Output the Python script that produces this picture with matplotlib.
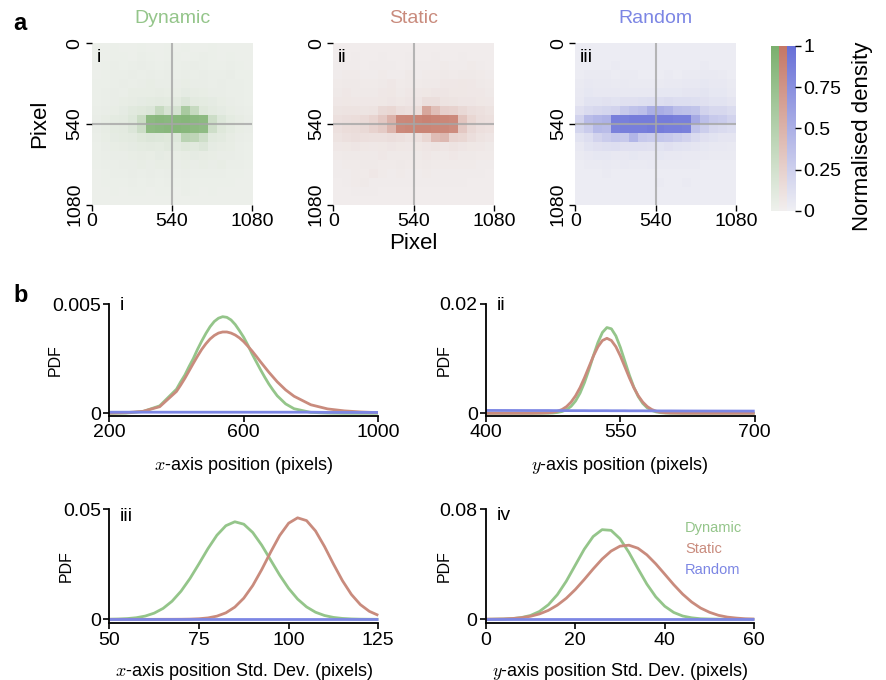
import numpy as np
import matplotlib.pyplot as plt
from matplotlib.colors import LinearSegmentedColormap

plt.rcParams['font.family'] = ['Liberation Sans', 'DejaVu Sans']
plt.rcParams['mathtext.fontset'] = 'cm'

# ---- panel a: binned gaze density (percent of max), 18 x 18 bins of 60 px ----
dynamic_density = [
    [2, 2, 3, 2, 2, 3, 2, 2, 3, 2, 3, 2, 2, 3, 2, 2, 2, 2],
    [2, 2, 3, 3, 2, 4, 3, 2, 3, 3, 2, 3, 4, 3, 2, 3, 2, 2],
    [2, 3, 4, 3, 4, 5, 4, 3, 4, 3, 4, 5, 4, 3, 3, 4, 3, 2],
    [2, 3, 4, 4, 5, 4, 5, 4, 5, 4, 5, 4, 5, 4, 4, 5, 3, 3],
    [3, 3, 4, 5, 4, 5, 6, 5, 5, 5, 6, 5, 5, 4, 5, 4, 4, 3],
    [3, 4, 5, 4, 6, 6, 6, 7, 6, 6, 8, 7, 6, 5, 5, 4, 4, 3],
    [3, 4, 5, 6, 7, 8, 9, 10, 9, 10, 16, 10, 9, 8, 6, 5, 4, 3],
    [4, 5, 6, 8, 12, 14, 16, 35, 20, 22, 60, 35, 14, 10, 8, 6, 5, 4],
    [5, 7, 9, 10, 15, 32, 85, 88, 86, 88, 90, 86, 84, 30, 15, 9, 7, 5],
    [5, 7, 9, 10, 16, 30, 84, 86, 88, 90, 88, 85, 82, 28, 14, 9, 6, 5],
    [4, 6, 8, 9, 10, 14, 16, 15, 14, 15, 45, 42, 28, 12, 10, 7, 5, 4],
    [3, 5, 6, 7, 8, 9, 10, 9, 12, 10, 14, 12, 16, 8, 7, 6, 4, 3],
    [3, 4, 5, 5, 6, 7, 6, 8, 7, 6, 7, 8, 7, 6, 5, 5, 4, 3],
    [3, 4, 4, 5, 5, 6, 5, 6, 6, 5, 6, 5, 6, 5, 6, 4, 4, 3],
    [2, 3, 4, 4, 5, 4, 5, 4, 5, 4, 5, 4, 4, 4, 4, 3, 3, 2],
    [2, 3, 3, 3, 4, 3, 4, 3, 4, 3, 4, 3, 3, 3, 3, 3, 2, 2],
    [2, 2, 3, 2, 3, 3, 2, 3, 3, 2, 4, 3, 2, 3, 2, 2, 2, 2],
    [2, 2, 2, 2, 2, 2, 2, 2, 2, 2, 2, 2, 2, 2, 2, 2, 2, 2],
]

static_density = [
    [2, 2, 2, 2, 2, 2, 2, 2, 2, 2, 2, 2, 2, 2, 2, 2, 2, 2],
    [2, 2, 3, 2, 2, 3, 2, 2, 3, 2, 2, 3, 2, 2, 3, 2, 2, 2],
    [3, 3, 3, 2, 3, 3, 3, 2, 3, 3, 3, 3, 4, 3, 3, 4, 3, 2],
    [3, 4, 4, 3, 3, 4, 3, 3, 5, 3, 4, 4, 5, 4, 5, 5, 4, 3],
    [4, 5, 5, 4, 4, 5, 6, 4, 5, 4, 5, 5, 6, 6, 7, 6, 5, 4],
    [5, 6, 5, 5, 5, 6, 7, 5, 6, 6, 7, 8, 8, 7, 7, 6, 6, 5],
    [6, 7, 6, 6, 6, 7, 8, 7, 8, 8, 14, 14, 10, 9, 8, 8, 7, 6],
    [9, 10, 10, 9, 10, 18, 20, 14, 12, 15, 60, 40, 25, 24, 18, 14, 12, 10],
    [12, 14, 15, 17, 22, 32, 50, 85, 86, 88, 90, 88, 86, 84, 35, 20, 14, 12],
    [12, 15, 16, 18, 24, 30, 48, 84, 86, 88, 88, 86, 85, 82, 32, 18, 13, 11],
    [10, 12, 14, 13, 12, 12, 14, 12, 10, 12, 20, 42, 45, 22, 20, 14, 10, 8],
    [6, 7, 8, 7, 6, 7, 8, 7, 6, 7, 8, 9, 8, 10, 8, 7, 6, 5],
    [4, 5, 5, 5, 5, 6, 5, 5, 5, 5, 6, 5, 5, 6, 5, 5, 4, 4],
    [3, 4, 4, 5, 5, 4, 4, 5, 4, 4, 5, 4, 4, 4, 4, 4, 3, 3],
    [3, 3, 4, 4, 6, 4, 3, 4, 3, 3, 4, 3, 3, 3, 3, 3, 3, 2],
    [2, 3, 4, 5, 3, 3, 3, 3, 3, 3, 3, 3, 3, 3, 3, 2, 2, 2],
    [2, 2, 3, 3, 3, 2, 2, 2, 2, 2, 2, 2, 2, 2, 2, 2, 2, 2],
    [2, 2, 2, 2, 2, 2, 2, 2, 2, 2, 2, 2, 2, 2, 2, 2, 2, 2],
]

random_density = [
    [3, 3, 3, 3, 3, 3, 3, 3, 3, 3, 3, 3, 3, 3, 3, 3, 3, 3],
    [3, 3, 3, 3, 3, 3, 3, 3, 3, 3, 3, 3, 3, 3, 3, 3, 3, 3],
    [3, 3, 3, 3, 4, 3, 3, 3, 3, 3, 3, 3, 3, 3, 4, 3, 3, 3],
    [3, 4, 4, 4, 3, 4, 4, 3, 3, 3, 4, 3, 4, 4, 5, 5, 4, 3],
    [4, 6, 5, 5, 4, 5, 4, 4, 4, 4, 5, 5, 6, 6, 7, 6, 6, 4],
    [5, 7, 6, 6, 6, 6, 6, 6, 6, 7, 7, 7, 8, 8, 9, 7, 7, 5],
    [6, 10, 10, 11, 10, 12, 12, 13, 14, 14, 15, 14, 14, 13, 12, 10, 10, 8],
    [12, 16, 18, 20, 22, 30, 35, 38, 50, 52, 48, 38, 36, 34, 22, 18, 18, 15],
    [22, 40, 45, 48, 88, 88, 90, 90, 90, 90, 90, 88, 88, 55, 38, 30, 28, 22],
    [20, 28, 42, 40, 86, 88, 88, 88, 90, 90, 88, 88, 86, 35, 26, 18, 16, 14],
    [10, 14, 22, 28, 32, 30, 45, 30, 28, 32, 30, 26, 22, 16, 12, 10, 8, 8],
    [6, 10, 12, 13, 14, 12, 12, 12, 11, 10, 12, 10, 9, 8, 7, 6, 6, 5],
    [4, 6, 7, 7, 6, 6, 7, 6, 6, 7, 6, 6, 5, 5, 5, 4, 4, 4],
    [3, 4, 4, 5, 4, 5, 4, 4, 5, 4, 4, 4, 4, 4, 3, 3, 3, 3],
    [3, 3, 3, 4, 3, 3, 3, 3, 3, 3, 3, 3, 3, 3, 3, 3, 3, 3],
    [3, 3, 3, 3, 3, 3, 3, 3, 3, 4, 3, 3, 4, 3, 3, 3, 3, 3],
    [3, 3, 3, 3, 3, 3, 3, 3, 3, 3, 3, 3, 3, 3, 3, 3, 3, 3],
    [3, 3, 3, 3, 3, 3, 3, 3, 3, 3, 3, 3, 3, 3, 3, 3, 3, 3],
]

# ---- panel b i: x-axis position ----
x_pos = [200, 250, 300, 350, 400, 412.5, 425, 437.5, 450, 462.5, 475, 487.5, 500,
         512.5, 525, 537.5, 550, 562.5, 575, 587.5, 600, 612.5, 625, 637.5, 650,
         662.5, 675, 687.5, 700, 725, 750, 800, 850, 900, 950, 1000]
dyn_x_pos = [0.00000, 0.00001, 0.00008, 0.00034, 0.00110, 0.00144, 0.00175, 0.00214,
             0.00250, 0.00292, 0.00330, 0.00365, 0.00396, 0.00420, 0.00435, 0.00442,
             0.00439, 0.00427, 0.00406, 0.00378, 0.00348, 0.00312, 0.00272, 0.00236,
             0.00200, 0.00166, 0.00134, 0.00106, 0.00080, 0.00043, 0.00021, 0.00004,
             0.00001, 0.00000, 0.00000, 0.00000]
sta_x_pos = [0.00001, 0.00003, 0.00009, 0.00030, 0.00100, 0.00129, 0.00160, 0.00194,
             0.00228, 0.00261, 0.00292, 0.00318, 0.00340, 0.00356, 0.00367, 0.00372,
             0.00372, 0.00367, 0.00358, 0.00345, 0.00328, 0.00307, 0.00285, 0.00261,
             0.00236, 0.00212, 0.00188, 0.00166, 0.00144, 0.00107, 0.00078, 0.00039,
             0.00020, 0.00011, 0.00006, 0.00003]
rnd_x_pos = [0.00005] * 32 + [0.00004] * 4

# ---- panel b ii: y-axis position ----
y_pos = [400, 450, 460, 470, 475, 480, 485, 490, 495, 500, 505, 510, 515, 520, 525,
         530, 535, 540, 545, 550, 555, 560, 565, 570, 575, 580, 585, 590, 595, 600,
         605, 620, 650, 700]
dyn_y_pos = [0.0, 0.0, 0.00001, 0.00002, 0.00006, 0.00015, 0.00033, 0.00067, 0.00127,
             0.00225, 0.00369, 0.00564, 0.00801, 0.01057, 0.01297, 0.01480, 0.01569,
             0.01546, 0.01416, 0.01206, 0.00955, 0.00702, 0.00480, 0.00305, 0.00181,
             0.00099, 0.00051, 0.00024, 0.00011, 0.00004, 0.00002, 0.0, 0.0, 0.0]
sta_y_pos = [0.0, 0.00001, 0.00003, 0.00009, 0.00019, 0.00038, 0.00070, 0.00123, 0.00205,
             0.00320, 0.00470, 0.00652, 0.00852, 0.01050, 0.01218, 0.01332, 0.01372,
             0.01332, 0.01218, 0.01050, 0.00852, 0.00652, 0.00470, 0.00320, 0.00205,
             0.00123, 0.00070, 0.00038, 0.00019, 0.00010, 0.00005, 0.00001, 0.0, 0.0]
rnd_y_pos = [0.00052, 0.00050, 0.00050, 0.00050, 0.00049, 0.00049, 0.00049, 0.00049,
             0.00048, 0.00048, 0.00048, 0.00048, 0.00047, 0.00047, 0.00047, 0.00047,
             0.00047, 0.00046, 0.00046, 0.00046, 0.00046, 0.00045, 0.00045, 0.00045,
             0.00045, 0.00044, 0.00044, 0.00044, 0.00043, 0.00043, 0.00043, 0.00042,
             0.00041, 0.00040]

# ---- panel b iii: x-axis position std. dev. ----
x_sd = [50, 52.5, 55, 57.5, 60, 62.5, 65, 67.5, 70, 72.5, 75, 77.5, 80, 82.5, 85, 87.5,
        90, 92.5, 95, 97.5, 100, 102.5, 105, 107.5, 110, 112.5, 115, 117.5, 120, 122.5, 125]
dyn_x_sd = [0.00006, 0.00015, 0.00034, 0.00073, 0.00148, 0.00281, 0.00497, 0.00824,
            0.01279, 0.01857, 0.02523, 0.03211, 0.03822, 0.04255, 0.04434, 0.04323,
            0.03945, 0.03369, 0.02690, 0.02011, 0.01407, 0.00921, 0.00565, 0.00323,
            0.00174, 0.00087, 0.00041, 0.00018, 0.00007, 0.00003, 0.00001]
sta_x_sd = [0.0, 0.0, 0.0, 0.0, 0.0, 0.0, 0.00001, 0.00002, 0.00004, 0.00010,
            0.00027, 0.00065, 0.00145, 0.00295, 0.00557, 0.00963, 0.01537, 0.02261,
            0.03059, 0.03809, 0.04369, 0.04613, 0.04486, 0.04015, 0.03310, 0.02512,
            0.01758, 0.01130, 0.00669, 0.00364, 0.00183]
rnd_x_sd = [0.0003] * 31

# ---- panel b iv: y-axis position std. dev. ----
y_sd = [0, 2, 4, 6, 8, 10, 12, 14, 16, 18, 20, 22, 24, 26, 28, 30,
        32, 34, 36, 38, 40, 42, 44, 46, 48, 50, 52, 54, 56, 58, 60]
dyn_y_sd = [0.0, 0.0001, 0.0002, 0.0005, 0.0013, 0.0028, 0.0057, 0.0106, 0.0179, 0.0277,
            0.0393, 0.0509, 0.0602, 0.0652, 0.0647, 0.0586, 0.0486, 0.0369, 0.0256,
            0.0163, 0.0095, 0.0050, 0.0024, 0.0011, 0.0004, 0.0002, 0.0001, 0.0, 0.0,
            0.0, 0.0]
sta_y_sd = [0.0001, 0.0002, 0.0003, 0.0006, 0.0012, 0.0022, 0.0039, 0.0065, 0.0103,
            0.0153, 0.0216, 0.0289, 0.0366, 0.0438, 0.0496, 0.0532, 0.0539, 0.0517,
            0.0469, 0.0403, 0.0328, 0.0252, 0.0183, 0.0126, 0.0082, 0.0051, 0.0029,
            0.0016, 0.0009, 0.0004, 0.0002]
rnd_y_sd = [0.0004] * 31

conditions = ['Dynamic', 'Static', 'Random']
line_colours = ['#94c58a', '#c98b7d', '#7c86e4']
heat_colours = [('#eff1ed', '#7bb06e'), ('#f2efef', '#c57766'), ('#f0f0f4', '#6870d8')]
cmaps = [LinearSegmentedColormap.from_list(name, pair) for name, pair in zip(conditions, heat_colours)]

W, H = 887.0, 680.0
fig = plt.figure(figsize=(W / 100, H / 100), dpi=100)

# panel a heatmaps
heat_lefts = [91.7, 333.3, 575.3]
grids = [dynamic_density, static_density, random_density]
romans = ['i', 'ii', 'iii']
for k in range(3):
    ax = fig.add_axes([heat_lefts[k] / W, 1 - 204.7 / H, 160.7 / W, 161.4 / H])
    ax.imshow(np.array(grids[k]) / 100.0, cmap=cmaps[k], vmin=0, vmax=1,
              extent=[0, 1080, 1080, 0], interpolation='nearest', aspect='auto')
    ax.axvline(540, color='#a6a6a6', lw=1.5, alpha=0.8)
    ax.axhline(540, color='#a6a6a6', lw=1.5, alpha=0.8)
    ax.set_xlim(0, 1080)
    ax.set_ylim(1080, 0)
    for s in ax.spines.values():
        s.set_visible(False)
    ax.set_xticks([0, 540, 1080])
    ax.set_xticklabels(['0', '540', '1080'])
    ax.set_yticks([0, 540, 1080])
    ax.set_yticklabels(['0', '540', '1080'], rotation=90, va='center')
    ax.tick_params(length=4, width=1, labelsize=14, pad=2)
    ax.text(0.03, 0.965, romans[k], transform=ax.transAxes, ha='left', va='top', fontsize=14)
    ax.text(0.5, 1.128, conditions[k], color=line_colours[k], transform=ax.transAxes,
            ha='center', va='baseline', fontsize=14)

# colour bar made of three strips
cax = fig.add_axes([770.7 / W, 1 - 210.7 / H, 24.3 / W, 164.7 / H])
grad = np.linspace(0, 1, 256).reshape(-1, 1)
for k in range(3):
    cax.imshow(grad, cmap=cmaps[k], extent=[k, k + 1, 0, 1], origin='lower', aspect='auto')
cax.set_xlim(0, 3)
cax.set_ylim(0, 1)
for s in cax.spines.values():
    s.set_visible(False)
cax.set_xticks([])
cax.yaxis.tick_right()
cax.set_yticks([0, 0.25, 0.5, 0.75, 1])
cax.set_yticklabels(['0', '0.25', '0.5', '0.75', '1'])
cax.tick_params(length=4, width=1, labelsize=14, pad=2)
fig.text(863 / W, 1 - 136 / H, 'Normalised density', rotation=90, ha='center', va='center', fontsize=16)

fig.text(40 / W, 1 - 124 / H, 'Pixel', rotation=90, ha='center', va='center', fontsize=16)
fig.text(413.7 / W, 1 - 243 / H, 'Pixel', ha='center', va='center', fontsize=16)
fig.text(13 / W, 1 - 30 / H, 'a', fontsize=17, fontweight='bold', va='baseline')
fig.text(13 / W, 1 - 302 / H, 'b', fontsize=17, fontweight='bold', va='baseline')


def pdf_panel(rect, x, series, xlim, xticks, ytop, ylow, ytop_label, xlabel, roman,
              roman_y, pdf_x, xlabel_y):
    ax = fig.add_axes(rect)
    for y, c in zip(series, line_colours):
        ax.plot(x, y, color=c, lw=2, clip_on=False, solid_capstyle='butt', solid_joinstyle='round')
    ax.set_xlim(*xlim)
    ax.set_ylim(ylow, ytop)
    ax.set_xticks(xticks)
    ax.set_xticklabels([str(t) for t in xticks])
    ax.set_yticks([0, ytop])
    ax.set_yticklabels(['0', ytop_label])
    ax.spines['top'].set_visible(False)
    ax.spines['right'].set_visible(False)
    ax.spines['left'].set_linewidth(1.3)
    ax.spines['bottom'].set_linewidth(1.3)
    ax.tick_params(length=4, width=1.2, labelsize=14, pad=2)
    ax.text(0.04, roman_y, roman, transform=ax.transAxes, ha='left', va='center', fontsize=14)
    ax.text(pdf_x, 0.5, 'PDF', transform=ax.transAxes, rotation=90, ha='center', va='center',
            fontsize=11.5)
    ax.text(0.5, xlabel_y, xlabel, transform=ax.transAxes, ha='center', va='center', fontsize=13)
    return ax


top_row = [1 - 416 / H, 112 / H]
bot_row = [1 - 623.3 / H, 114 / H]
pdf_panel([109.3 / W, top_row[0], 268.7 / W, top_row[1]], x_pos,
          [dyn_x_pos, sta_x_pos, rnd_x_pos], (200, 1000), [200, 600, 1000],
          0.005, -0.000124, '0.005', r'$x$-axis position (pixels)', 'i', 0.99, -0.202, -0.445)
pdf_panel([486 / W, top_row[0], 268.7 / W, top_row[1]], y_pos,
          [dyn_y_pos, sta_y_pos, rnd_y_pos], (400, 700), [400, 550, 700],
          0.02, -0.0005, '0.02', r'$y$-axis position (pixels)', 'ii', 0.99, -0.156, -0.445)
pdf_panel([109.3 / W, bot_row[0], 269 / W, bot_row[1]], x_sd,
          [dyn_x_sd, sta_x_sd, rnd_x_sd], (50, 125), [50, 75, 100, 125],
          0.05, -0.0018, '0.05', r'$x$-axis position Std. Dev. (pixels)', 'iii', 0.941, -0.161, -0.42)
ax4 = pdf_panel([485.7 / W, bot_row[0], 268.6 / W, bot_row[1]], y_sd,
                [dyn_y_sd, sta_y_sd, rnd_y_sd], (0, 60), [0, 20, 40, 60],
                0.08, -0.0029, '0.08', r'$y$-axis position Std. Dev. (pixels)', 'iv', 0.946, -0.156, -0.42)

for name, c, yy in zip(conditions, line_colours, [0.836, 0.652, 0.468]):
    ax4.text(0.742, yy, name, color=c, transform=ax4.transAxes, ha='left', va='center', fontsize=10.5)

fig.savefig('out.png', dpi=100)
